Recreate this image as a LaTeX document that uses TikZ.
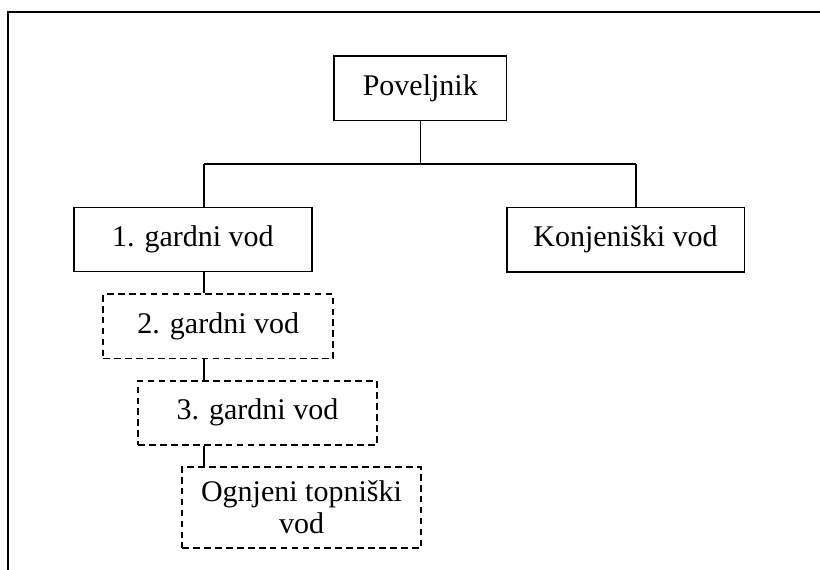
\documentclass[tikz,border=0pt]{standalone}
\usepackage{fontspec}
\setmainfont{Liberation Serif}
\begin{document}
\begin{tikzpicture}[x=0.75pt,y=-0.75pt,
  boxstyle/.style={draw=black,line width=1.2pt,rectangle,inner sep=0pt,align=center,
    font=\fontsize{22.5}{24}\selectfont},
  dashbox/.style={boxstyle,line width=1.3pt,dash pattern=on 5pt off 3.2pt},
  conn/.style={draw=black,line width=1.2pt},
  frameline/.style={draw=black,line width=1.6pt}]
\useasboundingbox (0,0) rectangle (820,569);
% frame
\coordinate (ftl) at (8,11.7);
\coordinate (ftr) at (822,11.7);
\coordinate (fbl) at (8,571);
\draw[frameline] (ftr) -- (ftl) -- (fbl);
% boxes
\node[boxstyle,minimum width=172.7*0.75pt,minimum height=64.6*0.75pt] (pov) at (420.3,88) {Poveljnik};
\node[boxstyle,minimum width=237.7*0.75pt,minimum height=64*0.75pt] (g1) at (192.9,239.3) {1. gardni vod};
\node[boxstyle,minimum width=237.6*0.75pt,minimum height=64.4*0.75pt] (kon) at (625.5,239.5) {Konjeniški vod};
\node[dashbox,minimum width=230*0.75pt,minimum height=64.2*0.75pt] (g2) at (218.3,326.4) {2. gardni vod};
\node[dashbox,minimum width=238.4*0.75pt,minimum height=64*0.75pt] (g3) at (257.5,412.7) {3. gardni vod};
\node[dashbox,minimum width=238.4*0.75pt,minimum height=81.6*0.75pt] (og) at (301.5,507.5) {Ognjeni topniški\\vod};
% connectors
\coordinate (jl) at (204,164);
\coordinate (jr) at (636,164);
\draw[conn] (pov.south) -- (pov.south |- jl);
\draw[conn] (jl) -- (jr);
\draw[conn] (jl) -- (jl |- g1.north);
\draw[conn] (jr) -- (jr |- kon.north);
\draw[conn] (jl |- g1.south) -- (jl |- g2.north);
\draw[conn] (jl |- g2.south) -- (jl |- g3.north);
\draw[conn] (jl |- g3.south) -- (jl |- og.north);
\end{tikzpicture}
\end{document}
